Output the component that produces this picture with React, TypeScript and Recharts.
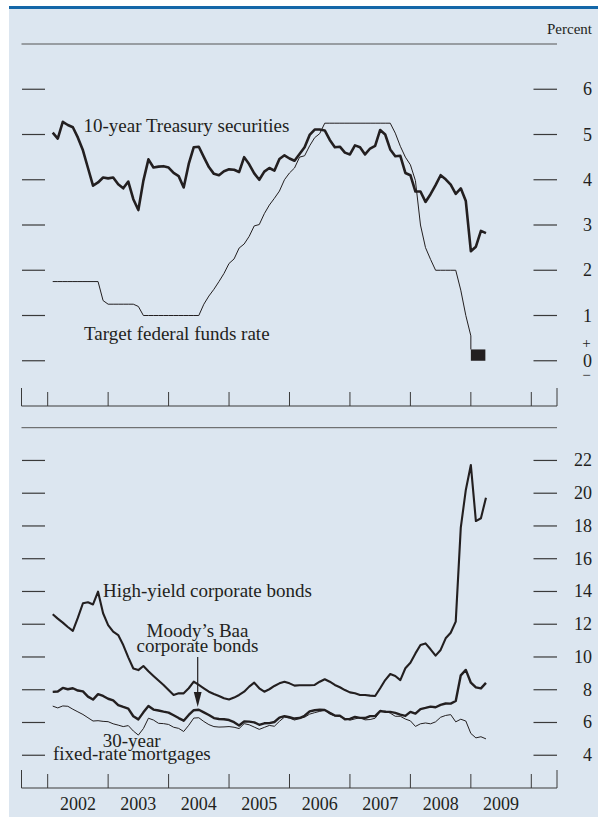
import { LineChart, Line, XAxis, YAxis, ReferenceLine, ReferenceArea } from "recharts";

const INK = "#231f20";
const TICK = "#3a3a3a";
const SERIF = '"Liberation Serif", "Times New Roman", serif';

// monthly averages, Jan 2002 - Mar 2009 (percent)
const treasury10y = [
  5.04, 4.91, 5.28, 5.21, 5.16, 4.93, 4.65, 4.26, 3.87, 3.94, 4.05, 4.03,
  4.05, 3.9, 3.81, 3.96, 3.57, 3.33, 3.98, 4.45, 4.27, 4.29, 4.3, 4.27,
  4.15, 4.08, 3.83, 4.35, 4.72, 4.73, 4.5, 4.28, 4.13, 4.1, 4.19, 4.23,
  4.22, 4.17, 4.5, 4.34, 4.14, 4.0, 4.18, 4.26, 4.2, 4.46, 4.54, 4.47,
  4.42, 4.57, 4.72, 4.99, 5.11, 5.11, 5.09, 4.88, 4.72, 4.73, 4.6, 4.56,
  4.76, 4.72, 4.56, 4.69, 4.75, 5.1, 5.0, 4.67, 4.52, 4.53, 4.15, 4.1,
  3.74, 3.74, 3.51, 3.68, 3.88, 4.1, 4.01, 3.89, 3.69, 3.81, 3.53, 2.42,
  2.52, 2.87, 2.82,
];

// Jan 2002 - Dec 2008
const fedFundsTarget = [
  1.75, 1.75, 1.75, 1.75, 1.75, 1.75, 1.75, 1.75, 1.75, 1.75, 1.33, 1.25,
  1.25, 1.25, 1.25, 1.25, 1.25, 1.2, 1.0, 1.0, 1.0, 1.0, 1.0, 1.0,
  1.0, 1.0, 1.0, 1.0, 1.0, 1.0, 1.25, 1.43, 1.58, 1.75, 1.93, 2.15,
  2.25, 2.49, 2.58, 2.75, 2.98, 3.01, 3.25, 3.44, 3.59, 3.75, 4.0, 4.15,
  4.26, 4.5, 4.53, 4.75, 4.93, 5.02, 5.25, 5.25, 5.25, 5.25, 5.25, 5.25,
  5.25, 5.25, 5.25, 5.25, 5.25, 5.25, 5.25, 5.25, 5.03, 4.74, 4.5, 4.33,
  3.98, 3.0, 2.5, 2.24, 2.0, 2.0, 2.0, 2.0, 2.0, 1.56, 1.0, 0.55,
];
const fedFundsFloor = 0.25;
// target range 0 to 1/4 percent, mid-Dec 2008 onward
const targetRange = { from: 2009.0, to: 2009.24, low: 0, high: 0.25 };

const highYield = [
  12.61, 12.34, 12.1, 11.83, 11.59, 12.4, 13.28, 13.34, 13.21, 13.99, 12.67, 11.95,
  11.55, 11.34, 10.73, 9.98, 9.3, 9.2, 9.45, 9.13, 8.84, 8.56, 8.29, 7.98,
  7.68, 7.78, 7.78, 8.09, 8.49, 8.29, 8.09, 7.88, 7.74, 7.62, 7.48, 7.4,
  7.52, 7.68, 7.88, 8.19, 8.43, 8.09, 7.88, 8.03, 8.23, 8.39, 8.49, 8.39,
  8.25, 8.27, 8.27, 8.27, 8.29, 8.49, 8.64, 8.49, 8.29, 8.15, 7.98, 7.84,
  7.78, 7.68, 7.68, 7.64, 7.62, 8.09, 8.59, 8.96, 8.84, 8.59, 9.31, 9.65,
  10.22, 10.73, 10.83, 10.47, 10.08, 10.43, 11.14, 11.48, 12.16, 17.9, 20.2, 21.72,
  18.3, 18.47, 19.73,
];

const baaCorporate = [
  7.87, 7.89, 8.11, 8.03, 8.09, 7.95, 7.9, 7.58, 7.4, 7.73, 7.62, 7.45,
  7.35, 7.06, 6.95, 6.85, 6.38, 6.19, 6.62, 7.01, 6.79, 6.73, 6.66, 6.6,
  6.44, 6.27, 6.11, 6.46, 6.75, 6.78, 6.62, 6.46, 6.27, 6.21, 6.2, 6.15,
  6.02, 5.82, 6.06, 6.05, 6.01, 5.86, 5.95, 5.96, 6.03, 6.3, 6.39, 6.32,
  6.24, 6.27, 6.41, 6.68, 6.75, 6.78, 6.76, 6.59, 6.43, 6.42, 6.2, 6.22,
  6.34, 6.28, 6.27, 6.39, 6.39, 6.7, 6.65, 6.65, 6.59, 6.48, 6.4, 6.65,
  6.54, 6.82, 6.89, 6.97, 6.93, 7.07, 7.16, 7.15, 7.31, 8.88, 9.21, 8.43,
  8.14, 8.08, 8.42,
];

const mortgage30y = [
  7.0, 6.89, 7.01, 6.99, 6.81, 6.65, 6.49, 6.29, 6.09, 6.11, 6.07, 6.05,
  5.92, 5.84, 5.75, 5.81, 5.48, 5.23, 5.63, 6.26, 6.15, 5.95, 5.93, 5.88,
  5.71, 5.64, 5.45, 5.83, 6.27, 6.29, 6.06, 5.87, 5.75, 5.72, 5.73, 5.75,
  5.71, 5.63, 5.93, 5.86, 5.72, 5.58, 5.7, 5.82, 5.77, 6.07, 6.33, 6.27,
  6.15, 6.25, 6.32, 6.51, 6.6, 6.68, 6.76, 6.52, 6.4, 6.36, 6.24, 6.14,
  6.22, 6.29, 6.16, 6.18, 6.26, 6.66, 6.7, 6.57, 6.38, 6.38, 6.21, 6.1,
  5.76, 5.92, 5.97, 5.92, 6.04, 6.32, 6.43, 6.48, 6.04, 6.2, 6.09, 5.33,
  5.06, 5.13, 5.0,
];

const topTicks = [0, 1, 2, 3, 4, 5, 6];
const bottomTicks = [4, 6, 8, 10, 12, 14, 16, 18, 20, 22];
const years = [2002, 2003, 2004, 2005, 2006, 2007, 2008, 2009];
const yearBounds = [2002, 2003, 2004, 2005, 2006, 2007, 2008, 2009, 2010];
const X_MIN = 2001.567;
const X_MAX = 2010.425;

const monthTime = (i: number) => 2002 + (i + 1) / 12;
const toPoints = (values: number[]) => values.map((v, i) => ({ t: monthTime(i), v }));

const fedFundsData = [
  ...toPoints(fedFundsTarget),
  { t: monthTime(fedFundsTarget.length - 1), v: fedFundsFloor },
];

const topXTicks = [X_MIN, ...yearBounds, X_MAX];
const bottomXTicks = [X_MIN, ...yearBounds, X_MAX, ...years.map((y) => y + 0.5)];

const PLOT_LEFT = 21.5;
const PLOT_RIGHT = 557;

function TimeTick(props: any) {
  const { x, y, payload } = props;
  const v = payload.value;
  if (v === X_MIN || v === X_MAX) {
    return <line x1={x} x2={x} y1={y - 18} y2={y} stroke={TICK} strokeWidth={1} />;
  }
  if (Number.isInteger(v)) {
    return <line x1={x} x2={x} y1={y - 14} y2={y} stroke={TICK} strokeWidth={1} />;
  }
  return (
    <text x={x} y={y + 22} textAnchor="middle" fill={INK} fontSize={18} fontFamily={SERIF}>
      {Math.floor(v)}
    </text>
  );
}

function ValueTick(props: any) {
  const { y, payload } = props;
  const v = payload.value;
  return (
    <g>
      <line x1={PLOT_LEFT + 0.5} x2={45} y1={y} y2={y} stroke={TICK} strokeWidth={1.2} />
      <line x1={533.5} x2={PLOT_RIGHT} y1={y} y2={y} stroke={TICK} strokeWidth={1.2} />
      <text x={592} y={y + 6} textAnchor="end" fill={INK} fontSize={18} fontFamily={SERIF}>
        {v}
      </text>
      {props.signs && v === 0 && (
        <>
          <text x={586.5} y={y - 13} textAnchor="middle" fill={INK} fontSize={15} fontFamily={SERIF}>
            +
          </text>
          <text x={586.5} y={y + 19} textAnchor="middle" fill={INK} fontSize={15} fontFamily={SERIF}>
            −
          </text>
        </>
      )}
    </g>
  );
}

const label = { fill: INK, fontSize: 19, fontFamily: SERIF };

export default function App() {
  return (
    <div style={{ position: "relative", width: 598, height: 817, background: "#fff", overflow: "hidden" }}>
      <style>{`html, body { margin: 0; padding: 0; }`}</style>
      <div style={{ position: "absolute", left: 9, top: 6, width: 589, height: 2.5, background: "#1467a8" }} />
      <div style={{ position: "absolute", left: 9, top: 8.5, width: 589, height: 808.5, background: "#dce6f0" }} />

      <div style={{ position: "absolute", left: 0, top: 0 }}>
        <LineChart width={598} height={420} margin={{ top: 44, right: 0, bottom: 0, left: PLOT_LEFT }}>
          <XAxis
            dataKey="t"
            type="number"
            domain={[X_MIN, X_MAX]}
            ticks={topXTicks}
            interval={0}
            tickSize={0}
            tickMargin={0}
            tickLine={false}
            height={14}
            axisLine={{ stroke: TICK }}
            tick={<TimeTick />}
          />
          <YAxis
            orientation="right"
            type="number"
            domain={[-1, 7]}
            ticks={topTicks}
            interval={0}
            width={41}
            tickSize={0}
            tickMargin={0}
            tickLine={false}
            axisLine={false}
            tick={<ValueTick signs />}
          />
          <ReferenceLine y={7} stroke="#555" strokeWidth={1} />
          <ReferenceArea
            x1={targetRange.from}
            x2={targetRange.to}
            y1={targetRange.low}
            y2={targetRange.high}
            fill={INK}
            fillOpacity={1}
            stroke="none"
          />
          <Line
            data={fedFundsData}
            dataKey="v"
            type="linear"
            stroke={INK}
            strokeWidth={1}
            dot={false}
            activeDot={false}
            isAnimationActive={false}
          />
          <Line
            data={toPoints(treasury10y)}
            dataKey="v"
            type="linear"
            stroke={INK}
            strokeWidth={2.6}
            strokeLinejoin="round"
            dot={false}
            activeDot={false}
            isAnimationActive={false}
          />
        </LineChart>
      </div>

      <div style={{ position: "absolute", left: 0, top: 420 }}>
        <LineChart width={598} height={397} margin={{ top: 7.7, right: 0, bottom: 0, left: PLOT_LEFT }}>
          <XAxis
            dataKey="t"
            type="number"
            domain={[X_MIN, X_MAX]}
            ticks={bottomXTicks}
            interval={0}
            tickSize={0}
            tickMargin={0}
            tickLine={false}
            height={29}
            axisLine={{ stroke: TICK }}
            tick={<TimeTick />}
          />
          <YAxis
            orientation="right"
            type="number"
            domain={[2, 24]}
            ticks={bottomTicks}
            interval={0}
            width={41}
            tickSize={0}
            tickMargin={0}
            tickLine={false}
            axisLine={false}
            tick={<ValueTick />}
          />
          <ReferenceLine y={24} stroke="#555" strokeWidth={1} />
          <Line
            data={toPoints(mortgage30y)}
            dataKey="v"
            type="linear"
            stroke={INK}
            strokeWidth={1}
            dot={false}
            activeDot={false}
            isAnimationActive={false}
          />
          <Line
            data={toPoints(baaCorporate)}
            dataKey="v"
            type="linear"
            stroke={INK}
            strokeWidth={2.4}
            strokeLinejoin="round"
            dot={false}
            activeDot={false}
            isAnimationActive={false}
          />
          <Line
            data={toPoints(highYield)}
            dataKey="v"
            type="linear"
            stroke={INK}
            strokeWidth={2.1}
            strokeLinejoin="round"
            dot={false}
            activeDot={false}
            isAnimationActive={false}
          />
        </LineChart>
      </div>

      <svg width={598} height={817} style={{ position: "absolute", left: 0, top: 0, pointerEvents: "none" }}>
        <text x={592} y={34} textAnchor="end" fill={INK} fontSize={15} fontFamily={SERIF}>
          Percent
        </text>
        <text x={83.5} y={131.7} {...label}>10-year Treasury securities</text>
        <text x={84} y={340} {...label}>Target federal funds rate</text>
        <text x={103} y={596.7} {...label}>High-yield corporate bonds</text>
        <text x={197.5} y={636.5} textAnchor="middle" {...label}>Moody’s Baa</text>
        <text x={197.5} y={651.7} textAnchor="middle" {...label}>corporate bonds</text>
        <text x={131.7} y={746.5} textAnchor="middle" {...label}>30-year</text>
        <text x={53} y={759.5} {...label}>fixed-rate mortgages</text>
        <line x1={197.7} x2={197.7} y1={657} y2={694} stroke={INK} strokeWidth={1.2} />
        <polygon points="193.8,692 201.6,692 197.7,707" fill={INK} />
      </svg>
    </div>
  );
}
